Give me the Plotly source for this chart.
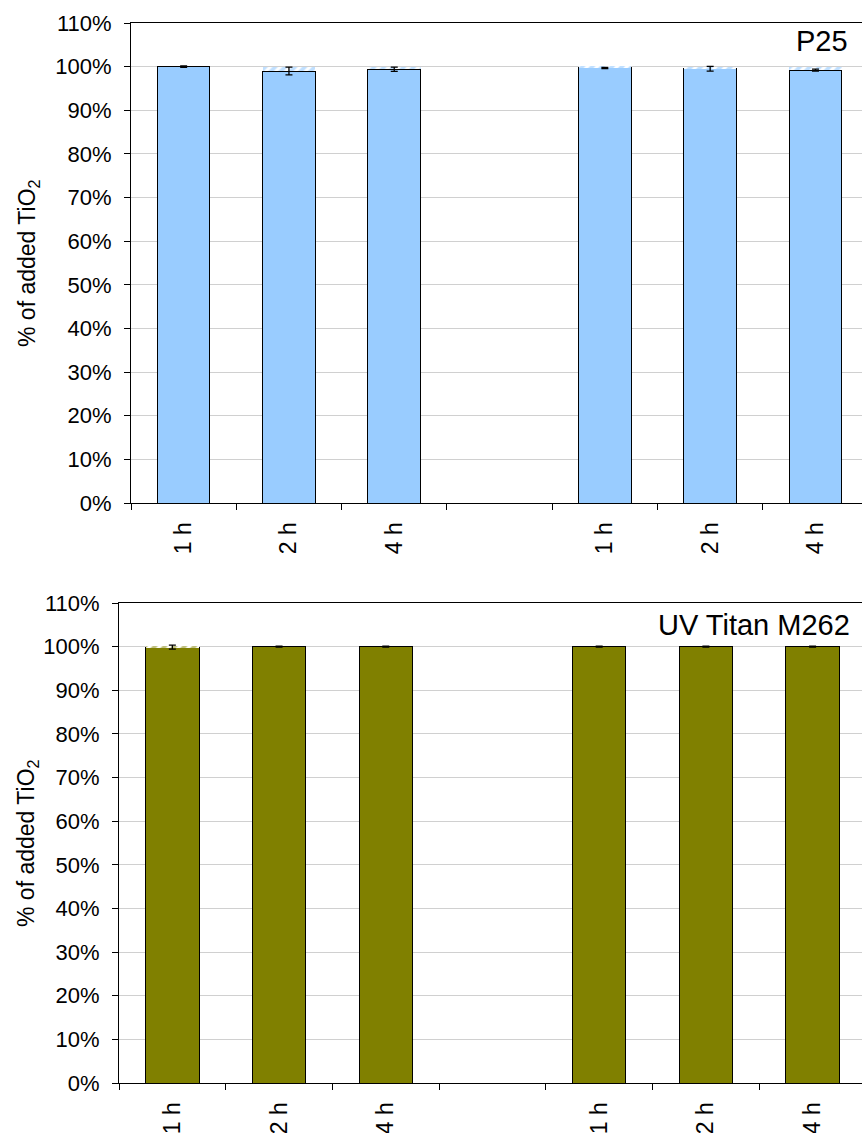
import plotly.graph_objects as go

# ---- data ----
categories = ["1 h", "2 h", "4 h", "", "1 h", "2 h", "4 h"]
bar_positions = [0, 1, 2, 4, 5, 6]
bar_labels = ["1 h", "2 h", "4 h", "1 h", "2 h", "4 h"]

p25_values = [100.0, 99.0, 99.4, 99.7, 99.5, 99.2]
p25_errors = [0.15, 0.9, 0.5, 0.15, 0.55, 0.25]

m262_values = [99.9, 100.0, 100.0, 100.0, 100.0, 100.0]
m262_errors = [0.45, 0.1, 0.1, 0.1, 0.1, 0.1]

y_ticks = [0, 10, 20, 30, 40, 50, 60, 70, 80, 90, 100, 110]
boundaries = [-0.5, 0.5, 1.5, 2.5, 3.5, 4.5, 5.5]

FONT = "Arial, Liberation Sans, sans-serif"
W, H = 862, 1133

fig = go.Figure()

panels = [
    dict(vals=p25_values, errs=p25_errors, color="#99CCFF", name="P25",
         xa="x", ya="y", left=131, top=23, bottom=503, xmax=6.442,
         label_x=850, label_y=41),
    dict(vals=m262_values, errs=m262_errors, color="#808000", name="UV Titan M262",
         xa="x2", ya="y2", left=119, top=603, bottom=1083, xmax=6.463,
         label_x=852, label_y=625),
]

annotations = []
for i, p in enumerate(panels):
    remainder = [max(0.0, 100.0 - v) for v in p["vals"]]
    fig.add_trace(go.Bar(
        x=bar_positions, y=p["vals"], width=0.5,
        marker=dict(color=p["color"], line=dict(color="#000000", width=1)),
        xaxis=p["xa"], yaxis=p["ya"], showlegend=False, hoverinfo="y",
    ))
    fig.add_trace(go.Bar(
        x=bar_positions, y=remainder, width=0.5,
        marker=dict(color="white", line=dict(width=0),
                    pattern=dict(shape="/", fgcolor="#80BFFF" if i == 0 else p["color"],
                                 bgcolor="white", size=7, solidity=0.55)),
        xaxis=p["xa"], yaxis=p["ya"], showlegend=False, hoverinfo="skip",
    ))
    fig.add_trace(go.Scatter(
        x=bar_positions, y=p["vals"], mode="markers",
        marker=dict(size=1, opacity=0),
        error_y=dict(type="data", array=p["errs"], visible=True,
                     color="#000000", thickness=1.3, width=3.5),
        xaxis=p["xa"], yaxis=p["ya"], showlegend=False, hoverinfo="skip",
    ))

    xdom = [p["left"] / W, 1.0]
    ydom = [(H - p["bottom"]) / H, (H - p["top"]) / H]
    suffix = "" if i == 0 else "2"
    fig.layout["xaxis" + suffix] = dict(
        domain=xdom, anchor=p["ya"], range=[-0.5, p["xmax"]], automargin=False,
        tickmode="array", tickvals=bar_positions, ticktext=bar_labels,
        tickangle=-90, ticks="", showgrid=False, zeroline=False,
        showline=True, linecolor="#000000", linewidth=1, mirror=True,
        tickfont=dict(family=FONT, size=23, color="#000000"),
        ticklabelstandoff=9,
        minor=dict(tickmode="array", tickvals=boundaries, ticks="outside",
                   ticklen=6, tickcolor="#000000", tickwidth=1, showgrid=False),
    )
    fig.layout["yaxis" + suffix] = dict(
        domain=ydom, anchor=p["xa"], range=[0, 110], automargin=False,
        tickmode="array", tickvals=y_ticks,
        ticktext=[f"{t}%" for t in y_ticks],
        ticks="outside", ticklen=6, tickcolor="#000000",
        showgrid=True, gridcolor="#D0D0D0", gridwidth=1, zeroline=False,
        showline=True, linecolor="#000000", linewidth=1,
        tickfont=dict(family=FONT, size=22, color="#000000"),
        ticklabelstandoff=8,
    )
    annotations.append(dict(
        text=p["name"], xref="paper", yref="paper",
        x=p["label_x"] / W, y=(H - p["label_y"]) / H,
        xanchor="right", yanchor="middle", showarrow=False,
        font=dict(family=FONT, size=29, color="#000000"),
    ))
    annotations.append(dict(
        text="% of added TiO<sub>2</sub>", xref="paper", yref="paper",
        x=28 / W, y=(H - (p["top"] + p["bottom"]) / 2) / H,
        xanchor="center", yanchor="middle", textangle=-90, showarrow=False,
        font=dict(family=FONT, size=23, color="#000000"),
    ))

fig.update_layout(
    width=W, height=H, barmode="stack", bargap=0.5,
    margin=dict(l=0, r=0, t=0, b=0, autoexpand=False),
    paper_bgcolor="white", plot_bgcolor="white",
    annotations=annotations,
)

fig.write_html("out.html", config={"displayModeBar": False},
               post_script="document.body.style.margin='0';")
